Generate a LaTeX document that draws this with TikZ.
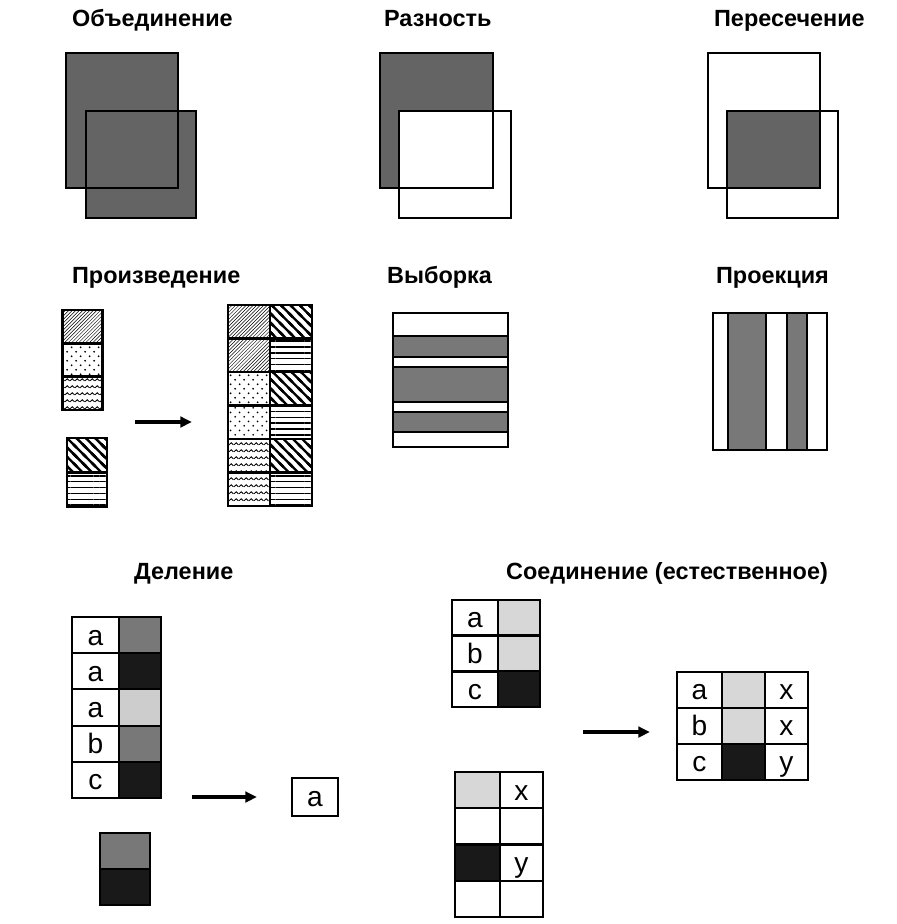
\documentclass[tikz,border=0pt]{standalone}
\usepackage{fontspec}
\setmainfont{Liberation Sans}
\usetikzlibrary{arrows.meta, patterns}
\definecolor{stipple}{RGB}{100,100,100}
\definecolor{midgray}{RGB}{120,120,120}
\definecolor{palegray}{RGB}{205,205,205}
\definecolor{inkblack}{RGB}{25,25,25}

% hatchings for the product tables
\pgfdeclarepatternformonly{sparse dots}{\pgfqpoint{0pt}{0pt}}{\pgfqpoint{8pt}{8pt}}{\pgfqpoint{8pt}{8pt}}{%
  \pgfpathcircle{\pgfqpoint{2pt}{2pt}}{0.9pt}\pgfpathcircle{\pgfqpoint{6pt}{6pt}}{0.9pt}\pgfusepath{fill}}
\pgfdeclarepatternformonly{zigzag}{\pgfqpoint{0pt}{0pt}}{\pgfqpoint{4pt}{6pt}}{\pgfqpoint{4pt}{6pt}}{%
  \pgfsetlinewidth{0.8pt}\pgfpathmoveto{\pgfqpoint{-0.1pt}{2pt}}\pgfpathlineto{\pgfqpoint{2pt}{4pt}}%
  \pgfpathlineto{\pgfqpoint{4.1pt}{2pt}}\pgfusepath{stroke}}
\pgfdeclarepatternformonly{wide nw lines}{\pgfqpoint{-2pt}{-2pt}}{\pgfqpoint{10pt}{10pt}}{\pgfqpoint{8pt}{8pt}}{%
  \pgfsetlinewidth{2pt}%
  \pgfpathmoveto{\pgfqpoint{-2pt}{2pt}}\pgfpathlineto{\pgfqpoint{2pt}{-2pt}}%
  \pgfpathmoveto{\pgfqpoint{-1pt}{9pt}}\pgfpathlineto{\pgfqpoint{9pt}{-1pt}}%
  \pgfpathmoveto{\pgfqpoint{6pt}{10pt}}\pgfpathlineto{\pgfqpoint{10pt}{6pt}}\pgfusepath{stroke}}
\pgfdeclarepatternformonly{wide h lines}{\pgfqpoint{0pt}{-1pt}}{\pgfqpoint{5pt}{6pt}}{\pgfqpoint{5pt}{5pt}}{%
  \pgfsetlinewidth{1.3pt}\pgfpathmoveto{\pgfqpoint{-0.1pt}{2.5pt}}\pgfpathlineto{\pgfqpoint{5.1pt}{2.5pt}}\pgfusepath{stroke}}

\begin{document}
\begin{tikzpicture}[
    x=0.03cm, y=-0.03cm,
    title/.style={anchor=base west, font=\bfseries\fontsize{20}{24}\selectfont},
    sq/.style={draw, line width=2pt, anchor=north west, inner sep=0pt, outer sep=0pt},
    cell/.style={draw, line width=1.8pt, inner sep=0pt, outer sep=0pt, text height=21pt, text depth=4pt, font=\fontsize{24}{26}\selectfont},
    pcell/.style={cell, minimum width=1.2cm, minimum height=1.02cm},
    rcell/.style={cell, minimum width=1.26cm, minimum height=1.005cm},
    dcell/.style={cell, minimum height=1.086cm},
    jcell/.style={cell, minimum height=1.08cm},
    arr/.style={-{Triangle[length=10pt,width=9pt]}, line width=3.4pt}
]
\useasboundingbox (0,0) rectangle (897,924);

% Top row: set operations
\node[title] (tuni) at (68,26)  {Объединение};
\node[title] (tdif) at (380,26) {Разность};
\node[title] (tint) at (710,26) {Пересечение};

\node[sq, fill=stipple, minimum width=3.36cm, minimum height=4.05cm] (uniA) at (66,53) {};
\node[sq, fill=stipple, minimum width=3.3cm, minimum height=3.21cm]  (uniB) at (86,111) {};
\draw[line width=2pt] (uniA.north west) rectangle (uniA.south east);

\node[sq, fill=stipple, minimum width=3.39cm, minimum height=4.05cm] (difA) at (380,53) {};
\node[sq, fill=white, minimum width=3.36cm, minimum height=3.21cm]   (difB) at (399,111) {};
\draw[line width=2pt] (difA.north west) rectangle (difA.south east);

\node[sq, minimum width=3.36cm, minimum height=4.05cm] (intA) at (708,53) {};
\node[sq, minimum width=3.33cm, minimum height=3.21cm] (intB) at (727,111) {};
\fill[stipple] (intB.north west) rectangle (intA.south east);
\draw[line width=2pt] (intA.north west) rectangle (intA.south east);
\draw[line width=2pt] (intB.north west) rectangle (intB.south east);

% Middle row: product, selection, projection
\node[title] (tpro) at (68,283)  {Произведение};
\node[title] (tsel) at (383,283) {Выборка};
\node[title] (tprj) at (712,283) {Проекция};

\node[pcell, pattern=north east lines] (r1a) at (82.5,326.7) {};
\node[pcell, pattern=sparse dots]      (r1b) at (82.5,360)   {};
\node[pcell, pattern=zigzag]           (r1c) at (82.5,393.3) {};
\node[pcell, pattern=wide nw lines]    (r2a) at (87,455)     {};
\node[pcell, pattern=wide h lines]     (r2b) at (87,489.5)   {};

\coordinate (pfrom) at (135,422);
\coordinate (pto)   at (192,422);
\draw[arr] (pfrom) -- (pto);

\node[rcell, pattern=north east lines] (p11) at (249,321.75) {};
\node[rcell, pattern=north east lines] (p21) at (249,355.25) {};
\node[rcell, pattern=sparse dots]      (p31) at (249,388.75) {};
\node[rcell, pattern=sparse dots]      (p41) at (249,422.25) {};
\node[rcell, pattern=zigzag]           (p51) at (249,455.75) {};
\node[rcell, pattern=zigzag]           (p61) at (249,489.25) {};
\node[rcell, pattern=wide nw lines]    (p12) at (291,321.75) {};
\node[rcell, pattern=wide h lines]     (p22) at (291,355.25) {};
\node[rcell, pattern=wide nw lines]    (p32) at (291,388.75) {};
\node[rcell, pattern=wide h lines]     (p42) at (291,422.25) {};
\node[rcell, pattern=wide nw lines]    (p52) at (291,455.75) {};
\node[rcell, pattern=wide h lines]     (p62) at (291,489.25) {};

\node[sq, fill=midgray, minimum width=3.45cm, minimum height=0.63cm] (sel1) at (393,336) {};
\node[sq, fill=midgray, minimum width=3.45cm, minimum height=1.05cm] (sel2) at (393,367) {};
\node[sq, fill=midgray, minimum width=3.45cm, minimum height=0.6cm]  (sel3) at (393,412) {};
\node[sq, minimum width=3.45cm, minimum height=4.02cm] (sel) at (393,313) {};

\node[sq, fill=midgray, minimum width=1.14cm, minimum height=4.11cm] (prj1) at (728,313) {};
\node[sq, fill=midgray, minimum width=0.6cm, minimum height=4.11cm]  (prj2) at (787,313) {};
\node[sq, minimum width=3.42cm, minimum height=4.11cm] (prj) at (713,313) {};

% Bottom row: division and natural join
\node[title] (tdiv) at (130,579) {Деление};
\node[title] (tjoin) at (502,579) {Соединение (естественное)};

\node[dcell, minimum width=1.41cm] (d1a) at (95.5,635.1) {a};
\node[dcell, minimum width=1.41cm] (d2a) at (95.5,671.3) {a};
\node[dcell, minimum width=1.41cm] (d3a) at (95.5,707.5) {a};
\node[dcell, minimum width=1.41cm] (d4a) at (95.5,743.7) {b};
\node[dcell, minimum width=1.41cm] (d5a) at (95.5,779.9) {c};
\node[dcell, minimum width=1.26cm, fill=midgray]  (d1b) at (140,635.1) {};
\node[dcell, minimum width=1.26cm, fill=inkblack] (d2b) at (140,671.3) {};
\node[dcell, minimum width=1.26cm, fill=palegray] (d3b) at (140,707.5) {};
\node[dcell, minimum width=1.26cm, fill=midgray]  (d4b) at (140,743.7) {};
\node[dcell, minimum width=1.26cm, fill=inkblack] (d5b) at (140,779.9) {};

\node[dcell, minimum width=1.5cm, fill=midgray]  (dv1) at (125,851) {};
\node[dcell, minimum width=1.5cm, fill=inkblack] (dv2) at (125,887) {};

\coordinate (dfrom) at (192,797);
\coordinate (dto)   at (257,797);
\draw[arr] (dfrom) -- (dto);
\node[cell, minimum width=1.38cm, minimum height=1.14cm] (dres) at (315,797) {a};

\node[jcell, minimum width=1.38cm] (j1a) at (475,617.8) {a};
\node[jcell, minimum width=1.38cm] (j1b) at (475,653.5) {b};
\node[jcell, minimum width=1.38cm] (j1c) at (475,689.2) {c};
\node[jcell, minimum width=1.26cm, fill=palegray!80] (j1d) at (519,617.8) {};
\node[jcell, minimum width=1.26cm, fill=palegray!80] (j1e) at (519,653.5) {};
\node[jcell, minimum width=1.26cm, fill=inkblack]    (j1f) at (519,689.2) {};

\node[jcell, minimum width=1.35cm, fill=palegray!80] (j2a) at (477.5,790.1) {};
\node[jcell, minimum width=1.35cm]                   (j2b) at (477.5,826.4) {};
\node[jcell, minimum width=1.35cm, fill=inkblack]    (j2c) at (477.5,862.6) {};
\node[jcell, minimum width=1.35cm]                   (j2d) at (477.5,898.9) {};
\node[jcell, minimum width=1.29cm] (j2e) at (521.5,790.1) {x};
\node[jcell, minimum width=1.29cm] (j2f) at (521.5,826.4) {};
\node[jcell, minimum width=1.29cm] (j2g) at (521.5,862.6) {y};
\node[jcell, minimum width=1.29cm] (j2h) at (521.5,898.9) {};

\coordinate (jfrom) at (583,732);
\coordinate (jto)   at (650,732);
\draw[arr] (jfrom) -- (jto);

\node[jcell, minimum width=1.35cm] (jr1a) at (699.5,690) {a};
\node[jcell, minimum width=1.35cm] (jr2a) at (699.5,726) {b};
\node[jcell, minimum width=1.35cm] (jr3a) at (699.5,762) {c};
\node[jcell, minimum width=1.29cm, fill=palegray!80] (jr1b) at (743.5,690) {};
\node[jcell, minimum width=1.29cm, fill=palegray!80] (jr2b) at (743.5,726) {};
\node[jcell, minimum width=1.29cm, fill=inkblack]    (jr3b) at (743.5,762) {};
\node[jcell, minimum width=1.29cm] (jr1c) at (786.5,690) {x};
\node[jcell, minimum width=1.29cm] (jr2c) at (786.5,726) {x};
\node[jcell, minimum width=1.29cm] (jr3c) at (786.5,762) {y};
\end{tikzpicture}
\end{document}
